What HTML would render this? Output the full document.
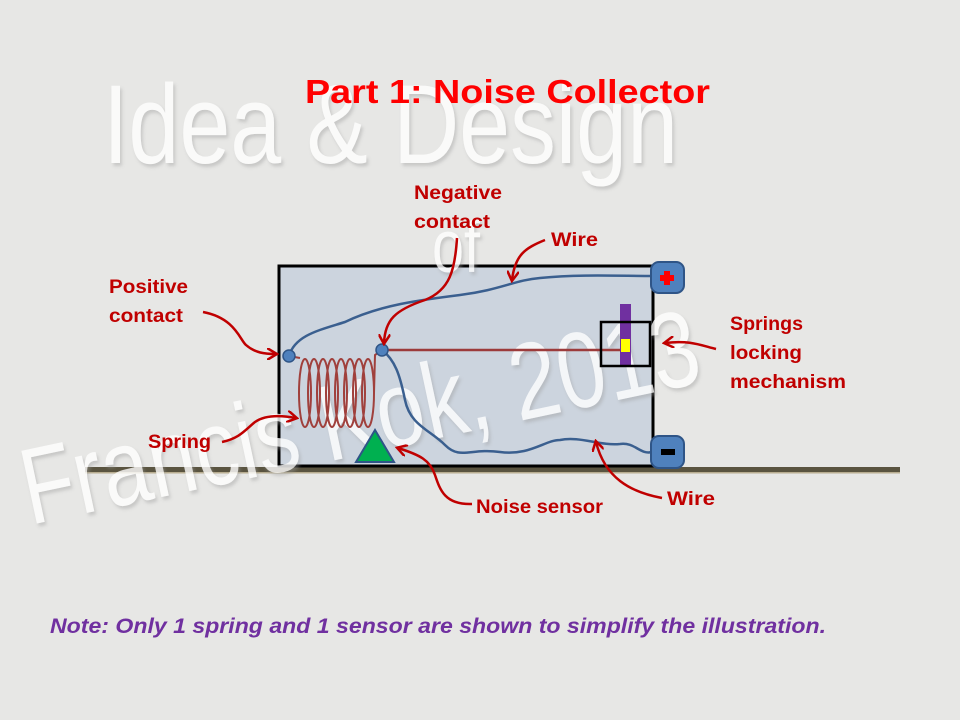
<!DOCTYPE html>
<html><head><meta charset="utf-8"><style>
html,body{margin:0;padding:0;background:#e8e8e6;}
svg{display:block;}
</style></head><body>
<svg width="960" height="720" viewBox="0 0 960 720" xmlns="http://www.w3.org/2000/svg" font-family="Liberation Sans, sans-serif">
<defs>
<filter id="sh"><feDropShadow dx="2" dy="3" stdDeviation="1.5" flood-color="#999" flood-opacity="0.5"/></filter>
<marker id="ar" markerWidth="12" markerHeight="12" refX="9" refY="6" orient="auto" markerUnits="userSpaceOnUse"><path d="M0,0 L10,6 L0,12" fill="none" stroke="#c00000" stroke-width="2.5"/></marker>
</defs>
<rect width="960" height="720" fill="#e7e7e5"/>
<!-- ground -->
<rect x="85" y="467" width="815" height="5" fill="#5a5440"/>
<rect x="85" y="472" width="815" height="1.5" fill="#b8ad90"/>
<!-- box -->
<rect x="279" y="266" width="374" height="200" fill="#ccd4de" stroke="#000" stroke-width="3"/>
<!-- watermark -->
<g fill="#ffffff" filter="url(#sh)" opacity="0.8">
<text x="103" y="163" font-size="112" textLength="575" lengthAdjust="spacingAndGlyphs">Idea &amp; Design</text>
<text x="432" y="272" font-size="74" textLength="48" lengthAdjust="spacingAndGlyphs">of</text>
<text transform="translate(30,525) rotate(-12)" font-size="108" textLength="690" lengthAdjust="spacingAndGlyphs">Francis Kok, 2013</text>
</g>
<!-- title -->
<text x="305" y="103" font-size="33" font-weight="bold" fill="#ff0000" textLength="405" lengthAdjust="spacingAndGlyphs">Part 1:  Noise Collector</text>
<!-- wires -->
<path d="M289,356 C295,335 320,330 345,322 C380,305 420,300 460,295 C500,290 515,280 540,278 C580,274 620,276 652,276" fill="none" stroke="#3a5f8f" stroke-width="2.5"/>
<path d="M382,350 C395,360 400,375 405,400 C410,425 430,430 445,445 C460,460 470,448 500,452 C530,456 545,440 560,440 C580,436 600,446 620,444 C635,442 640,455 652,452" fill="none" stroke="#3a5f8f" stroke-width="2.5"/>
<line x1="382" y1="350" x2="624" y2="350" stroke="#9c3b3b" stroke-width="2.5"/>
<!-- spring coils -->
<g fill="none" stroke="#a0403c" stroke-width="2">
<path d="M289,356 L300,358"/>
<ellipse cx="305" cy="393" rx="6" ry="34"/><ellipse cx="314" cy="393" rx="6" ry="34"/><ellipse cx="323" cy="393" rx="6" ry="34"/><ellipse cx="332" cy="393" rx="6" ry="34"/><ellipse cx="341" cy="393" rx="6" ry="34"/><ellipse cx="350" cy="393" rx="6" ry="34"/><ellipse cx="359" cy="393" rx="6" ry="34"/><ellipse cx="368" cy="393" rx="6" ry="34"/>
<path d="M374,393 L375,355 L382,350"/>
</g>
<circle cx="289" cy="356" r="6" fill="#4f81bd" stroke="#2f5587" stroke-width="1.5"/>
<circle cx="382" cy="350" r="6" fill="#4f81bd" stroke="#2f5587" stroke-width="1.5"/>
<polygon points="375,430 356,462 394,462" fill="#00b050" stroke="#2f5587" stroke-width="2"/>
<!-- lock -->
<rect x="620" y="304" width="11" height="62" fill="#7030a0"/>
<rect x="621" y="339" width="9" height="13" fill="#ffff00"/>
<rect x="601" y="322" width="49" height="44" fill="none" stroke="#000" stroke-width="2.5"/>
<!-- terminals -->
<rect x="651" y="262" width="33" height="31" rx="8" fill="#4f81bd" stroke="#2f5587" stroke-width="2"/>
<path d="M664,271 h6 v4 h4 v6 h-4 v4 h-6 v-4 h-4 v-6 h4z" fill="#ff0000"/>
<rect x="651" y="436" width="33" height="32" rx="8" fill="#4f81bd" stroke="#2f5587" stroke-width="2"/>
<rect x="661" y="449" width="14" height="6" fill="#000"/>
<!-- labels -->
<g font-weight="bold" fill="#c00000" font-size="19">
<text x="414" y="199" textLength="88" lengthAdjust="spacingAndGlyphs">Negative</text>
<text x="414" y="228" textLength="76" lengthAdjust="spacingAndGlyphs">contact</text>
<text x="551" y="246" textLength="47" lengthAdjust="spacingAndGlyphs">Wire</text>
<text x="109" y="293" textLength="79" lengthAdjust="spacingAndGlyphs">Positive</text>
<text x="109" y="322" textLength="74" lengthAdjust="spacingAndGlyphs">contact</text>
<text x="730" y="330" textLength="73" lengthAdjust="spacingAndGlyphs">Springs</text>
<text x="730" y="359" textLength="72" lengthAdjust="spacingAndGlyphs">locking</text>
<text x="730" y="388" textLength="116" lengthAdjust="spacingAndGlyphs">mechanism</text>
<text x="148" y="448" textLength="63" lengthAdjust="spacingAndGlyphs">Spring</text>
<text x="476" y="513" textLength="127" lengthAdjust="spacingAndGlyphs">Noise sensor</text>
<text x="667" y="505" textLength="48" lengthAdjust="spacingAndGlyphs">Wire</text>
</g>
<!-- arrows -->
<g fill="none" stroke="#c00000" stroke-width="2.5" marker-end="url(#ar)">
<path d="M457,238 C455,270 450,290 425,300 C395,310 385,320 384,343"/>
<path d="M545,240 C525,248 515,255 512,280"/>
<path d="M203,312 C235,318 240,340 246,345 C255,353 265,354 276,354"/>
<path d="M716,349 C700,345 690,340 665,343"/>
<path d="M222,442 C240,438 245,430 255,422 C265,415 280,415 296,418"/>
<path d="M472,504 C445,505 440,490 435,475 C430,460 420,455 398,448"/>
<path d="M662,498 C630,492 605,478 596,442"/>
</g>
<text x="50" y="633" font-size="21" font-weight="bold" font-style="italic" fill="#7030a0" textLength="776" lengthAdjust="spacingAndGlyphs">Note: Only 1 spring and 1 sensor are shown to simplify the illustration.</text>
</svg>
</body></html>
